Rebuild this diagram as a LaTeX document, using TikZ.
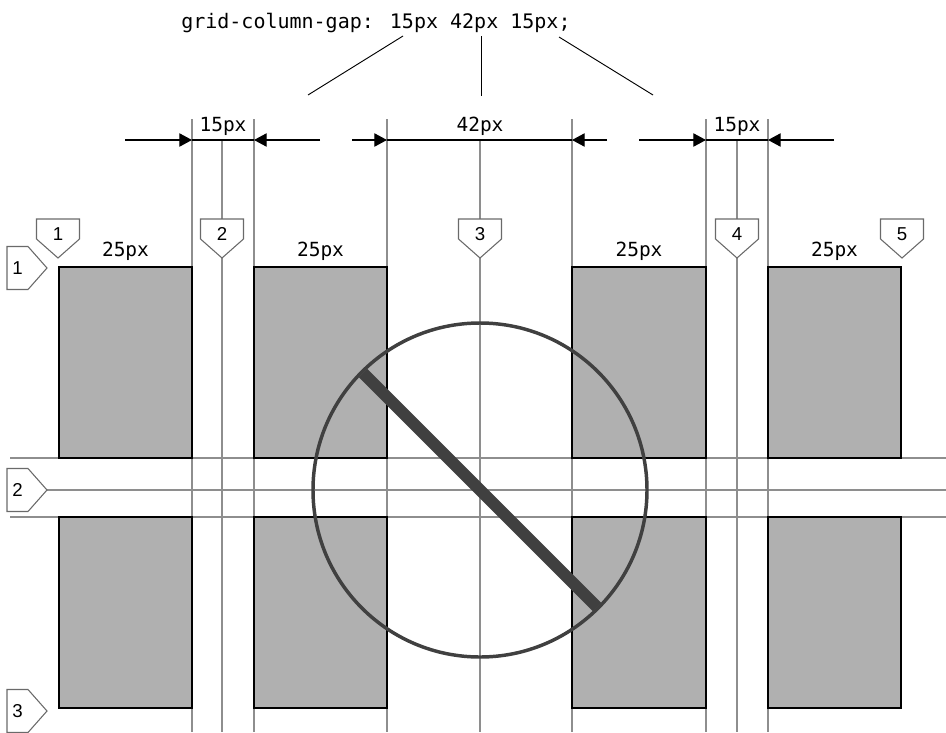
\documentclass[tikz,border=0pt]{standalone}
\usepackage{fontspec}
\setmainfont{Liberation Sans}
\newfontfamily\codefont{DejaVu Sans Mono}
\usetikzlibrary{arrows.meta}
\definecolor{cellgray}{HTML}{B0B0B0}
\definecolor{linegray}{HTML}{8E8E8E}
\definecolor{markgray}{HTML}{6A6A6A}
\definecolor{darkgray}{HTML}{404040}
\tikzset{
  gline/.style={draw=linegray, line width=0.95pt},
  cell/.style={fill=cellgray, draw=black, line width=0.9pt},
  dimline/.style={draw=black, line width=0.9pt},
  dimarrow/.style={dimline, -{Triangle[length=9.5pt,width=10pt]}},
  pointer/.style={draw=black, line width=0.7pt},
  lbl/.style={font=\codefont\fontsize{14.6}{16}\selectfont, inner sep=0, anchor=base},
  codetext/.style={font=\codefont\fontsize{15}{18}\selectfont, inner sep=0, anchor=base west},
  num/.style={font=\fontsize{14}{16}\selectfont, inner sep=0, anchor=base},
  markshape/.style={draw=markgray, fill=white, line width=0.8pt},
  downmark/.pic={\path[markshape] (-21.5,-19)--(21.5,-19)--(21.5,1)--(0,20)--(-21.5,1)--cycle;},
  rightmark/.pic={\path[markshape] (-10.5,-21.5)--(10.5,-21.5)--(29.5,0)--(10.5,21.5)--(-10.5,21.5)--cycle;},
  nogo/.style={draw=darkgray, line width=2.6pt},
  slash/.style={draw=darkgray, line width=9pt},
}
\begin{document}
\begin{tikzpicture}[x=0.75pt,y=-0.75pt]
\useasboundingbox (0,0) rectangle (946,732);
% grid lines
\foreach \x in {192,254,387,572,706,768} \draw[gline] (\x,119) -- (\x,732);
\foreach \x in {222,480,737} \draw[gline] (\x,140) -- (\x,732);
\draw[gline] (10,458) -- (946,458);
\draw[gline] (47,490) -- (946,490);
\draw[gline] (10,517) -- (946,517);
% cells
\foreach \a/\b in {59/192,254/387,572/706,768/901}{
  \draw[cell] (\a,267) rectangle (\b,458);
  \draw[cell] (\a,517) rectangle (\b,708);
}
% code text
\node[codetext] (code) at (181,28) {grid-column-gap: 15px 42px 15px;};
\coordinate (p1a) at (403,36); \coordinate (p1b) at (308,95);
\coordinate (p2a) at (481,36); \coordinate (p2b) at (481,96);
\coordinate (p3a) at (559,37); \coordinate (p3b) at (653,95);
\draw[pointer] (p1a) -- (p1b);
\draw[pointer] (p2a) -- (p2b);
\draw[pointer] (p3a) -- (p3b);
% dimensions
\coordinate (d1s) at (125,140); \coordinate (d1a) at (192,140);
\coordinate (d1b) at (254,140); \coordinate (d1e) at (320,140);
\coordinate (d2s) at (352,140); \coordinate (d2a) at (387,140);
\coordinate (d2b) at (572,140); \coordinate (d2e) at (607,140);
\coordinate (d3s) at (639,140); \coordinate (d3a) at (706,140);
\coordinate (d3b) at (768,140); \coordinate (d3e) at (834,140);
\foreach \n in {1,2,3}{
  \draw[dimarrow] (d\n s) -- (d\n a);
  \draw[dimarrow] (d\n e) -- (d\n b);
  \draw[dimline] (d\n a) -- (d\n b);
}
\node[lbl] (g1) at (223,131) {15px};
\node[lbl] (g2) at (480,131) {42px};
\node[lbl] (g3) at (737,131) {15px};
\node[lbl] (c1) at (125.5,256) {25px};
\node[lbl] (c2) at (320.5,256) {25px};
\node[lbl] (c3) at (639,256) {25px};
\node[lbl] (c4) at (834.5,256) {25px};
% top markers
\foreach \x/\t in {58/1,222/2,480/3,737/4,902/5}{
  \pic at (\x,238) {downmark};
  \node[num] (tm\t) at (\x,240) {\t};
}
% left markers
\foreach \y/\t in {268/1,490/2,711/3}{
  \pic at (17.5,\y) {rightmark};
  \node[num] (lm\t) at (17.5,\y+6.5) {\t};
}
% no-go sign
\draw[slash] (363,373) -- (597,607);
\draw[nogo] (480,490) circle[radius=167];
\end{tikzpicture}
\end{document}
